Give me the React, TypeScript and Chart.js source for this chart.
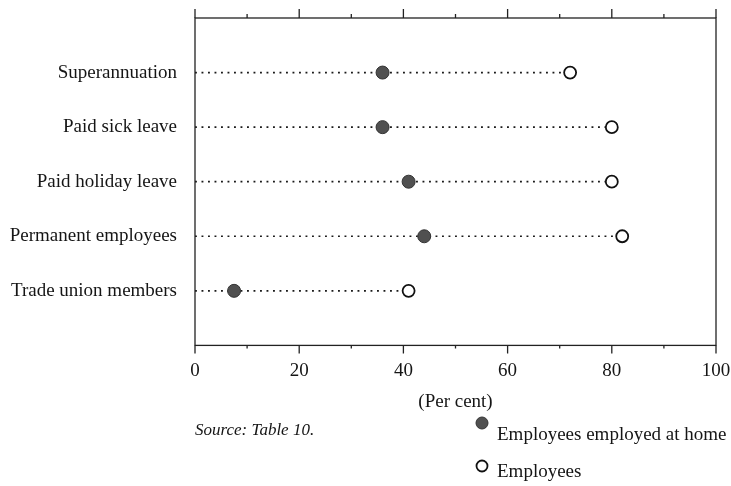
import React, { useEffect, useRef } from "react";
import { Chart, registerables } from "chart.js";

Chart.register(...registerables);

const categories = [
  "Superannuation",
  "Paid sick leave",
  "Paid holiday leave",
  "Permanent employees",
  "Trade union members",
];
const homeValues = [36, 36, 41, 44, 7.5];
const employeeValues = [72, 80, 80, 82, 41];
const xTickStep = 10;
const legendLabels = ["Employees employed at home", "Employees"];
const sourceText = "Source: Table 10.";
const axisTitle = "(Per cent)";

const SERIF = "'Liberation Serif', 'Times New Roman', serif";
const INK = "#151515";

const framePlugin = {
  id: "framePlugin",
  afterDraw(chart: any) {
    const { ctx, chartArea: a, scales } = chart;
    const x = scales.x;
    ctx.save();
    ctx.strokeStyle = "#222";
    ctx.lineWidth = 1.3;
    ctx.strokeRect(a.left, a.top, a.right - a.left, a.bottom - a.top);
    ctx.beginPath();
    x.ticks.forEach((t: any) => {
      const px = x.getPixelForValue(t.value);
      const major = t.value % 20 === 0;
      const up = major ? 9 : 4;
      const down = major ? 8 : 3;
      ctx.moveTo(px, a.top);
      ctx.lineTo(px, a.top - up);
      ctx.moveTo(px, a.bottom);
      ctx.lineTo(px, a.bottom + down);
    });
    ctx.stroke();

    // source note
    ctx.fillStyle = INK;
    ctx.textAlign = "left";
    ctx.textBaseline = "alphabetic";
    ctx.font = `italic 17px ${SERIF}`;
    ctx.fillText(sourceText, a.left, 435);

    // legend
    const lx = 482;
    ctx.beginPath();
    ctx.arc(lx, 423, 6, 0, Math.PI * 2);
    ctx.fillStyle = "#505050";
    ctx.fill();
    ctx.strokeStyle = "#333";
    ctx.lineWidth = 1;
    ctx.stroke();

    ctx.beginPath();
    ctx.arc(lx, 466, 5.5, 0, Math.PI * 2);
    ctx.fillStyle = "#fff";
    ctx.fill();
    ctx.strokeStyle = "#111";
    ctx.lineWidth = 1.8;
    ctx.stroke();

    ctx.fillStyle = INK;
    ctx.font = `19px ${SERIF}`;
    ctx.fillText(legendLabels[0], 497, 440);
    ctx.fillText(legendLabels[1], 497, 477);
    ctx.restore();
  },
};

export default function App() {
  const canvasRef = useRef<HTMLCanvasElement | null>(null);

  useEffect(() => {
    if (!canvasRef.current) return;
    Chart.defaults.font.family = SERIF;
    Chart.defaults.color = INK;

    const lineSets = categories.map((c, i) => ({
      label: c,
      data: [
        { x: 0, y: i + 1 },
        { x: employeeValues[i], y: i + 1 },
      ],
      showLine: true,
      borderColor: "#1a1a1a",
      borderWidth: 1.7,
      borderDash: [1.9, 4.6],
      pointRadius: 0,
      order: 2,
    }));

    const chart = new Chart(canvasRef.current, {
      type: "scatter",
      data: {
        datasets: [
          {
            label: legendLabels[0],
            data: homeValues.map((v, i) => ({ x: v, y: i + 1 })),
            pointRadius: 6.5,
            pointBackgroundColor: "#505050",
            pointBorderColor: "#333",
            pointBorderWidth: 1,
            order: 0,
          },
          {
            label: legendLabels[1],
            data: employeeValues.map((v, i) => ({ x: v, y: i + 1 })),
            pointRadius: 6,
            pointBackgroundColor: "#fff",
            pointBorderColor: "#111",
            pointBorderWidth: 1.8,
            order: 1,
          },
          ...lineSets,
        ] as any,
      },
      options: {
        animation: false,
        responsive: false,
        devicePixelRatio: 1,
        layout: { padding: { top: 18, right: 15, left: 0, bottom: 73 } },
        plugins: {
          legend: { display: false },
          tooltip: { enabled: false },
        },
        scales: {
          x: {
            type: "linear",
            min: 0,
            max: 100,
            border: { display: false },
            afterFit: (scale: any) => {
              scale.paddingLeft = 0;
              scale.paddingRight = 0;
            },
            grid: {
              display: true,
              drawOnChartArea: false,
              drawTicks: true,
              tickLength: 10,
              color: "rgba(0,0,0,0)",
            },
            ticks: {
              stepSize: xTickStep,
              padding: 4,
              font: { size: 19, family: SERIF },
              color: INK,
              maxRotation: 0,
              autoSkip: false,
              callback: (v: any) => (Number(v) % 20 === 0 ? String(v) : ""),
            },
            title: {
              display: true,
              text: axisTitle,
              font: { size: 19, family: SERIF },
              color: INK,
              padding: { top: 4, bottom: 0 },
            },
          },
          y: {
            type: "linear",
            reverse: true,
            min: 0,
            max: categories.length + 1,
            border: { display: false },
            grid: { display: false, drawTicks: false },
            afterFit: (scale: any) => {
              scale.width = 195;
              scale.paddingTop = 0;
              scale.paddingBottom = 0;
            },
            afterBuildTicks: (scale: any) => {
              scale.ticks = categories.map((_, i) => ({ value: i + 1 }));
            },
            ticks: {
              padding: 18,
              font: { size: 19, family: SERIF },
              color: INK,
              autoSkip: false,
              callback: (v: any) => categories[Number(v) - 1] ?? "",
            },
          },
        },
      },
      plugins: [framePlugin],
    });
    return () => chart.destroy();
  }, []);

  return (
    <div style={{ position: "fixed", left: 0, top: 0, width: 731, height: 486, background: "#fff" }}>
      <canvas ref={canvasRef} width={731} height={486} style={{ width: 731, height: 486 }} />
    </div>
  );
}
